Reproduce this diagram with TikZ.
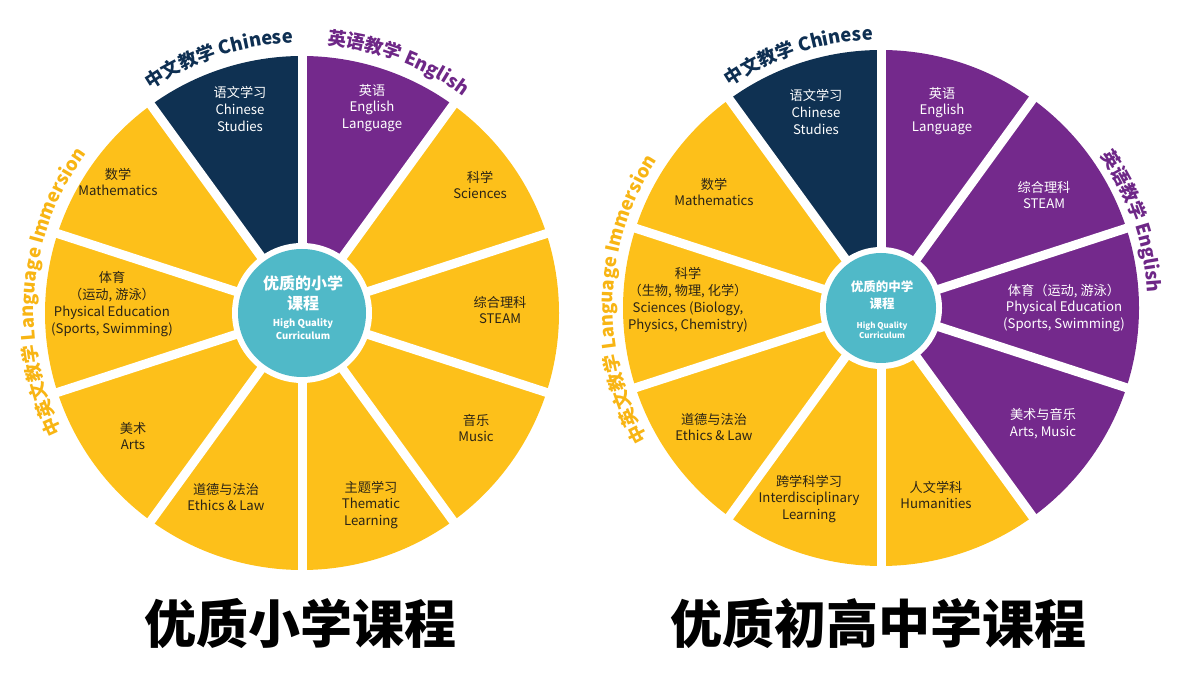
\documentclass[tikz,border=0pt]{standalone}
\usepackage{fontspec}
\setmainfont{Noto Sans CJK SC}
\usetikzlibrary{decorations.text}
\definecolor{cyel}{HTML}{FDC01A}
\definecolor{cnavy}{HTML}{0F3152}
\definecolor{cpur}{HTML}{74298C}
\definecolor{cteal}{HTML}{50B9C8}
\definecolor{ctxt}{HTML}{2B2416}
\definecolor{cyeltxt}{HTML}{F8B514}
\definecolor{cnavytxt}{HTML}{0E2F52}
\definecolor{cpurtxt}{HTML}{6E2787}
\begin{document}
\begin{tikzpicture}[x=1pt,y=1pt,
  lab/.style={align=center,font=\fontsize{13.2}{16.8}\selectfont,text=ctxt,inner sep=0pt},
  labw/.style={lab,text=white},
  ctrbig/.style={align=center,font=\fontsize{16}{20}\selectfont\bfseries,text=white,inner sep=0pt},
  ctrsmall/.style={align=center,font=\fontsize{9.5}{12.5}\selectfont\bfseries,text=white,inner sep=0pt},
  gap/.style={white,line width=9pt},
  title/.style={font=\fontsize{52}{60}\selectfont\bfseries,text=black,inner sep=0pt},
  curved/.style={decorate,decoration={text along path,text align=center,text={#1}}}
]
\useasboundingbox (0,0) rectangle (1180,680);
% ---------- left wheel ----------
\coordinate (L) at (302,367);
\foreach \a/\c in {90/cnavy,54/cpur,18/cyel,-18/cyel,-54/cyel,-90/cyel,-126/cyel,-162/cyel,162/cyel,126/cyel}
  \fill[\c] (L) -- ++(\a:257) arc[start angle=\a,end angle=\a+36,radius=257] -- cycle;
\foreach \a in {18,54,...,342}
  \draw[gap] (L) -- ++(\a:266);
\fill[white] (L) circle[radius=70];
\fill[cteal] (L) circle[radius=64];

\node[labw] (lchs) at (240,571) {语文学习\\Chinese\\Studies};
\node[labw] (leng) at (372,572) {英语\\English\\Language};
\node[lab] (lmath) at (118,498) {数学\\Mathematics};
\node[lab] (lsci) at (480,495) {科学\\Sciences};
\node[lab] (lpe) at (112,376) {体育\\（运动, 游泳）\\Physical Education\\(Sports, Swimming)};
\node[lab] (lsteam) at (500,370) {综合理科\\STEAM};
\node[lab] (larts) at (133,244) {美术\\Arts};
\node[lab] (lmusic) at (476,252) {音乐\\Music};
\node[lab] (leth) at (226,183) {道德与法治\\Ethics \& Law};
\node[lab] (lthem) at (371,175) {主题学习\\Thematic\\Learning};
\node[ctrbig] (lc1) at (303,387) {优质的小学\\课程};
\node[ctrsmall] (lc2) at (303,351) {High Quality\\Curriculum};

\path[curved={|\fontsize{18.5}{21}\selectfont\bfseries\color{cnavytxt}|中文教学 Chinese}] (L) ++(140:270) arc[start angle=140,end angle=76,radius=270];
\path[curved={|\fontsize{18.5}{21}\selectfont\bfseries\color{cpurtxt}|英语教学 English}] (L) ++(101:270) arc[start angle=101,end angle=37,radius=270];
\path[curved={|\fontsize{18.5}{21}\selectfont\bfseries\color{cyeltxt}|中英文教学 Language Immersion}] (L) ++(235:268) arc[start angle=235,end angle=115,radius=268];

% ---------- right wheel ----------
\coordinate (R) at (881,372);
\foreach \a/\c in {90/cnavy,54/cpur,18/cpur,-18/cpur,-54/cpur,-90/cyel,-126/cyel,-162/cyel,162/cyel,126/cyel}
  \fill[\c] (R) -- ++(\a:258) arc[start angle=\a,end angle=\a+36,radius=258] -- cycle;
\foreach \a in {18,54,...,342}
  \draw[gap] (R) -- ++(\a:267);
\fill[white] (R) circle[radius=61];
\fill[cteal] (R) circle[radius=55];

\node[labw] (rchs) at (816,568) {语文学习\\Chinese\\Studies};
\node[labw] (reng) at (942,569) {英语\\English\\Language};
\node[lab] (rmath) at (714,488) {数学\\Mathematics};
\node[labw] (rsteam) at (1044,485) {综合理科\\STEAM};
\node[lab] (rsci) at (688,380) {科学\\（生物, 物理, 化学）\\Sciences (Biology,\\Physics, Chemistry)};
\node[labw] (rpe) at (1064,372) {体育（运动, 游泳）\\Physical Education\\(Sports, Swimming)};
\node[lab] (reth) at (714,253) {道德与法治\\Ethics \& Law};
\node[labw] (rarts) at (1043,256) {美术与音乐\\Arts, Music};
\node[lab] (rint) at (809,181) {跨学科学习\\Interdisciplinary\\Learning};
\node[lab] (rhum) at (936,185) {人文学科\\Humanities};
\node[ctrbig,font=\fontsize{12.5}{16.5}\selectfont\bfseries] (rc1) at (882,385) {优质的中学\\课程};
\node[ctrsmall,font=\fontsize{8}{10.5}\selectfont\bfseries] (rc2) at (882,350) {High Quality\\Curriculum};

\path[curved={|\fontsize{18.5}{21}\selectfont\bfseries\color{cnavytxt}|中文教学 Chinese}] (R) ++(140:268) arc[start angle=140,end angle=76,radius=268];
\path[curved={|\fontsize{18.5}{21}\selectfont\bfseries\color{cpurtxt}|英语教学 English}] (R) ++(51:267) arc[start angle=51,end angle=-13,radius=267];
\path[curved={|\fontsize{18.5}{21}\selectfont\bfseries\color{cyeltxt}|中英文教学 Language Immersion}] (R) ++(238:268) arc[start angle=238,end angle=118,radius=268];

% ---------- titles ----------
\node[title] (t1) at (300,56) {优质小学课程};
\node[title] (t2) at (878,56) {优质初高中学课程};
\end{tikzpicture}
\end{document}
